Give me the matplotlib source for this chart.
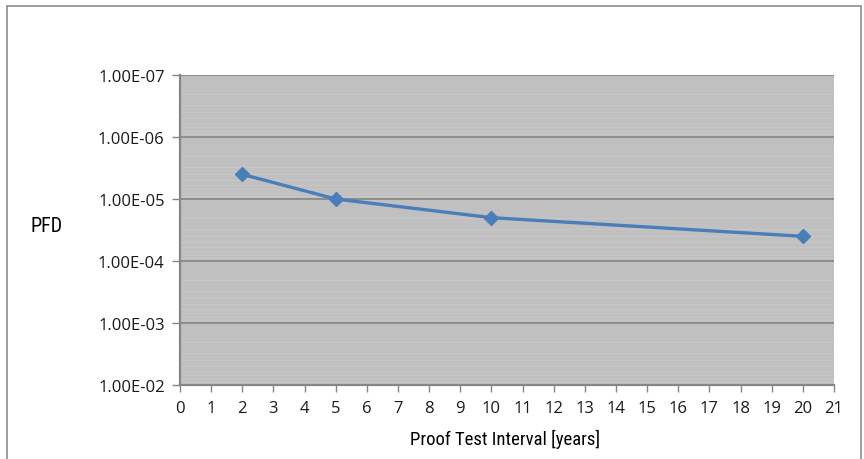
import matplotlib
matplotlib.use("Agg")
from matplotlib import pyplot as plt
from matplotlib.patches import Rectangle
from matplotlib.ticker import FixedLocator, FuncFormatter, LogLocator

# proof test interval [years] vs PFD
interval = [2, 5, 10, 20]
pfd = [4.0e-6, 1.0e-5, 2.0e-5, 4.0e-5]

x_ticks = list(range(0, 22))
y_ticks = [1e-7, 1e-6, 1e-5, 1e-4, 1e-3, 1e-2]

LINE_COLOR = "#4a7ebb"
BG = "#c0c0c0"
GRID = "#868686"
NARROW = ["Liberation Sans Narrow", "DejaVu Sans Condensed", "Roboto Condensed",
          "Open Sans", "DejaVu Sans"]

fig = plt.figure(figsize=(8.64, 4.6), dpi=100)
fig.patch.set_facecolor("white")
fig.patches.append(
    Rectangle((7 / 864, -0.05), 854 / 864, 0.05 + 1 - 7 / 460,
              transform=fig.transFigure, fill=False, edgecolor="#8c8c8c",
              linewidth=1.2, clip_on=False)
)

ax = fig.add_axes([180 / 864, 74 / 460, 654 / 864, 310 / 460])
ax.set_facecolor(BG)

ax.plot(interval, pfd, color=LINE_COLOR, linewidth=2.4, marker="D",
        markersize=7, zorder=5)

ax.set_yscale("log")
ax.set_ylim(1e-2, 1e-7)
ax.set_xlim(0, 21)

ax.yaxis.set_major_locator(FixedLocator(y_ticks))
ax.yaxis.set_minor_locator(LogLocator(base=10, subs=range(2, 10)))
ax.yaxis.set_major_formatter(FuncFormatter(lambda v, p: f"{v:.2E}"))
ax.yaxis.set_minor_formatter(FuncFormatter(lambda v, p: ""))
ax.xaxis.set_major_locator(FixedLocator(x_ticks))

ax.grid(which="major", axis="y", color=GRID, linewidth=1.2)
ax.grid(which="minor", axis="y", color="#c9c9c9", linewidth=0.6)
ax.set_axisbelow(True)

for side in ["top", "right"]:
    ax.spines[side].set_visible(False)
for side in ["left", "bottom"]:
    ax.spines[side].set_color(GRID)
    ax.spines[side].set_linewidth(1.6)

ax.tick_params(axis="y", which="major", length=6, width=1, color=GRID, pad=5,
               labelsize=12, labelcolor="#1a1a1a")
ax.tick_params(axis="y", which="minor", length=0)
ax.tick_params(axis="x", length=5, width=1, color=GRID, pad=6,
               labelsize=12, labelcolor="#1a1a1a")
for lbl in ax.get_xticklabels() + ax.get_yticklabels():
    lbl.set_fontfamily(["Open Sans", "DejaVu Sans"])

fig.text(47 / 864, 1 - 226 / 460, "PFD", ha="center", va="center",
         fontsize=14.5, family=NARROW)
fig.text(505 / 864, 1 - 439 / 460, "Proof Test Interval [years]", ha="center",
         va="center", fontsize=13.5, family=NARROW)

fig.savefig("out.png", dpi=100)
